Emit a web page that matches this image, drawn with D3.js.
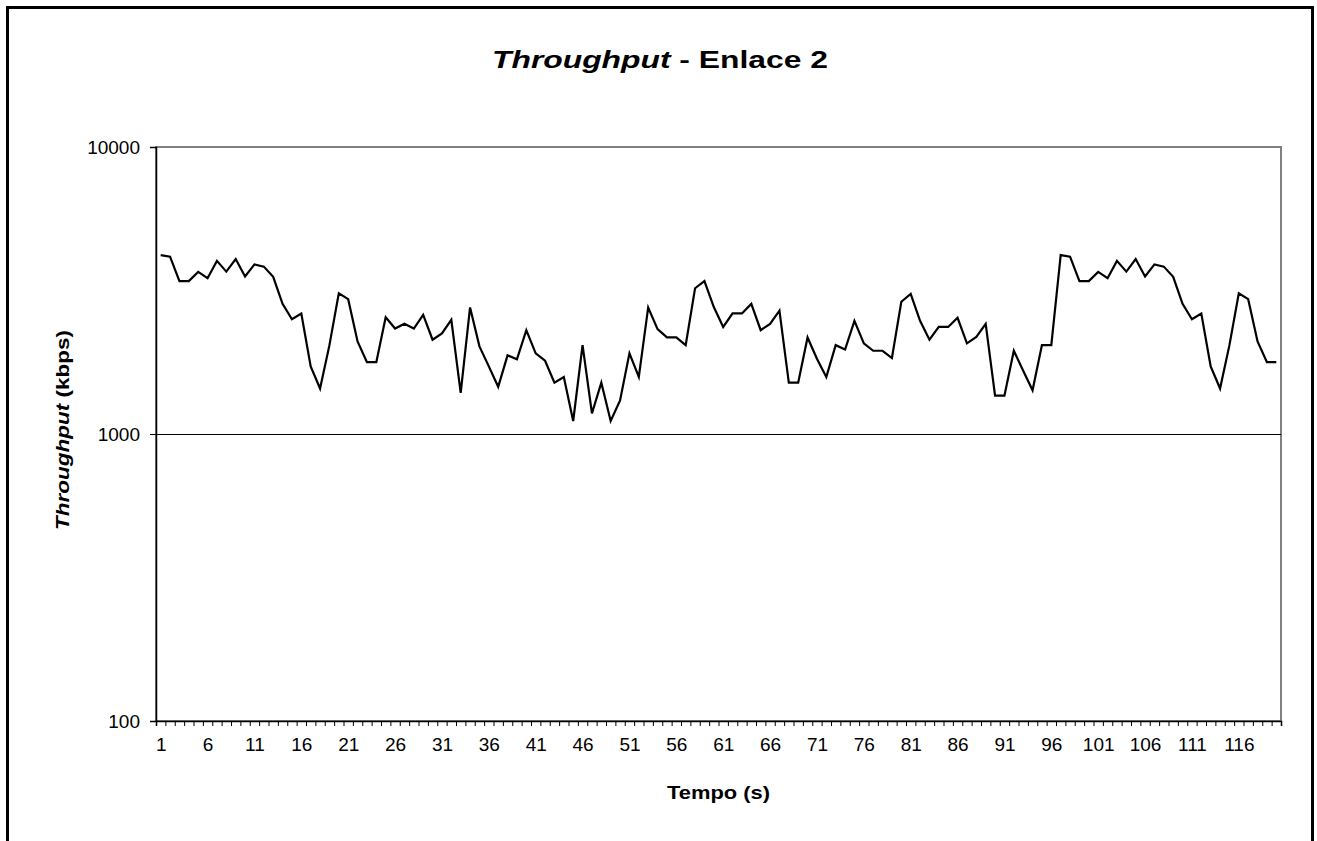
<!DOCTYPE html>
<html>
<head>
<meta charset="utf-8">
<script src="https://cdn.jsdelivr.net/npm/d3@7"></script>
<style>
  body { margin: 0; background: #fff; }
  svg text { font-family: "Liberation Sans", Arial, sans-serif; fill: #000; }
</style>
</head>
<body>
<div id="chart"></div>
<script>
const width = 1317;
const height = 841;
const margin = { top: 147, left: 156 };
const plotW = 1125;
const plotH = 574;

// tempo (s), 1..120
const tempo = d3.range(1, 121);

// throughput em kbps
const throughput = [
  4200, 4150, 3410, 3410, 3670, 3490, 4010, 3680, 4070, 3540,
  3900, 3830, 3530, 2840, 2510, 2630, 1720, 1440, 2040, 3090,
  2950, 2100, 1780, 1780, 2550, 2330, 2420, 2330, 2600, 2130,
  2240, 2500, 1390, 2760, 2020, 1720, 1460, 1880, 1820, 2300,
  1910, 1800, 1510, 1580, 1110, 2040, 1180, 1510, 1110, 1310,
  1910, 1580, 2760, 2320, 2170, 2170, 2040, 3220, 3410, 2770,
  2360, 2630, 2630, 2840, 2300, 2420, 2690, 1510, 1510, 2170,
  1830, 1580, 2040, 1970, 2480, 2070, 1950, 1950, 1840, 2890,
  3080, 2480, 2130, 2360, 2360, 2540, 2070, 2180, 2420, 1360,
  1360, 1950, 1660, 1420, 2040, 2040, 4200, 4150, 3410, 3410,
  3670, 3490, 4010, 3680, 4070, 3540, 3900, 3830, 3530, 2840,
  2510, 2630, 1720, 1440, 2040, 3090, 2950, 2100, 1780, 1780
];

const xTickLabels = [1, 6, 11, 16, 21, 26, 31, 36, 41, 46, 51, 56, 61, 66, 71, 76, 81, 86, 91, 96, 101, 106, 111, 116];
const yTicks = [100, 1000, 10000];

const svg = d3.select('#chart')
  .append('svg')
  .attr('width', width)
  .attr('height', height);

// moldura externa
svg.append('rect')
  .attr('x', 7.5).attr('y', 7.5)
  .attr('width', 1305).attr('height', 860)
  .attr('fill', 'none')
  .attr('stroke', '#000')
  .attr('stroke-width', 3);

const xScale = d3.scaleLinear().domain([0.5, 120.5]).range([0, plotW]);
const yScale = d3.scaleLog().domain([100, 10000]).range([plotH, 0]);

const g = svg.append('g')
  .attr('transform', 'translate(' + margin.left + ',' + margin.top + ')');

// borda da area de plotagem (cinza)
g.append('rect')
  .attr('x', 0).attr('y', 0)
  .attr('width', plotW).attr('height', plotH)
  .attr('fill', 'none')
  .attr('stroke', '#808080')
  .attr('stroke-width', 2);

// linha de grade em 1000
g.append('line')
  .attr('x1', 0).attr('x2', plotW)
  .attr('y1', yScale(1000) + 0.5).attr('y2', yScale(1000) + 0.5)
  .attr('stroke', '#000')
  .attr('stroke-width', 1);

// eixo y
const yAxis = g.append('g')
  .call(d3.axisLeft(yScale).tickValues(yTicks).tickSize(6).tickPadding(10).tickFormat(d3.format('d')));
yAxis.select('.domain').attr('stroke', '#000').attr('stroke-width', 1.5);
yAxis.selectAll('.tick line').attr('stroke', '#000');
yAxis.selectAll('text').style('font-size', '19px').attr('dy', '0.34em');

// eixo x: marcas entre categorias
const xTicksAxis = g.append('g')
  .attr('transform', 'translate(0,' + plotH + ')')
  .call(d3.axisBottom(xScale).tickValues(d3.range(0.5, 121, 1)).tickSize(5).tickFormat(''));
xTicksAxis.select('.domain').attr('stroke', '#000').attr('stroke-width', 1.5);
xTicksAxis.selectAll('.tick line').attr('stroke', '#000');

// rotulos do eixo x
const xLabels = g.append('g')
  .attr('transform', 'translate(0,' + plotH + ')')
  .call(d3.axisBottom(xScale).tickValues(xTickLabels).tickSize(0).tickPadding(17));
xLabels.select('.domain').remove();
xLabels.selectAll('text').style('font-size', '19px');

// serie
const line = d3.line()
  .x(function(d, i) { return xScale(tempo[i]); })
  .y(function(d) { return yScale(d); });

g.append('path')
  .datum(throughput)
  .attr('d', line)
  .attr('fill', 'none')
  .attr('stroke', '#000')
  .attr('stroke-width', 2.2);

// titulo
const title = svg.append('text')
  .attr('x', 660).attr('y', 68)
  .attr('text-anchor', 'middle')
  .attr('textLength', 336)
  .attr('lengthAdjust', 'spacingAndGlyphs')
  .style('font-size', '23px')
  .style('font-weight', 'bold');
title.append('tspan').style('font-style', 'italic').text('Throughput');
title.append('tspan').text('  - Enlace 2');

// titulo eixo x
svg.append('text')
  .attr('x', margin.left + xScale(60.5)).attr('y', 799)
  .attr('text-anchor', 'middle')
  .attr('textLength', 103)
  .attr('lengthAdjust', 'spacingAndGlyphs')
  .style('font-size', '18px')
  .style('font-weight', 'bold')
  .text('Tempo (s)');

// titulo eixo y
const yTitle = svg.append('text')
  .attr('transform', 'translate(69,430) rotate(-90)')
  .attr('text-anchor', 'middle')
  .attr('textLength', 200)
  .attr('lengthAdjust', 'spacingAndGlyphs')
  .style('font-size', '18px')
  .style('font-weight', 'bold');
yTitle.append('tspan').style('font-style', 'italic').text('Throughput');
yTitle.append('tspan').text('  (kbps)');
</script>
</body>
</html>
